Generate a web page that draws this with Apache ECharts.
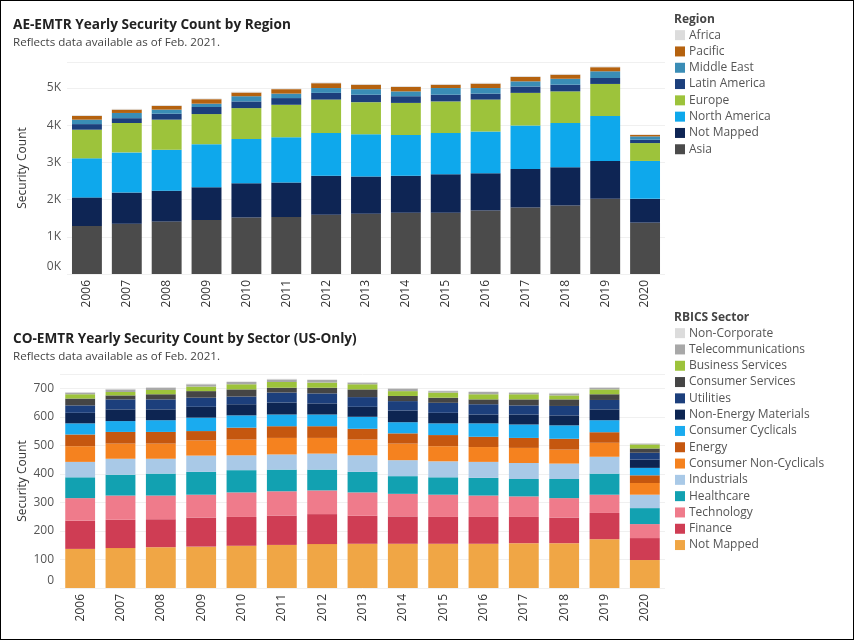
<!DOCTYPE html>
<html><head><meta charset="utf-8">
<script src="https://cdn.jsdelivr.net/npm/echarts@6/dist/echarts.min.js"></script>
<style>
html,body{margin:0;padding:0;background:#fff;}
#c{width:854px;height:640px;}
#frame{position:absolute;left:0;top:0;width:852px;height:638px;border:1px solid #000;pointer-events:none;}
</style></head>
<body>
<div id="c"></div><div id="frame"></div>
<script>
const years = ['2006','2007','2008','2009','2010','2011','2012','2013','2014','2015','2016','2017','2018','2019','2020'];

// Region chart (security counts)
const regionNames = ['Africa','Pacific','Middle East','Latin America','Europe','North America','Not Mapped','Asia'];
const asia         = [1290,1350,1410,1450,1520,1530,1590,1620,1650,1650,1710,1790,1840,2020,1380];
const notMappedR   = [770,840,830,880,920,930,1050,1000,990,1030,1000,1030,1030,1020,640];
const northAmerica = [1050,1080,1100,1160,1190,1220,1150,1140,1100,1110,1120,1170,1190,1210,1020];
const europe       = [770,790,810,810,830,870,900,860,860,850,860,880,850,860,480];
const latinAmerica = [150,130,160,190,180,180,180,200,180,180,160,170,180,160,90];
const middleEast   = [120,140,110,90,140,120,130,150,130,180,150,140,160,180,90];
const pacific      = [100,90,100,120,100,120,130,120,120,90,120,120,110,110,40];
const africa       = [20,20,20,20,20,20,20,20,20,20,20,20,20,20,10];

// Sector chart (US-only security counts)
const sectorNames = ['Non-Corporate','Telecommunications','Business Services','Consumer Services','Utilities','Non-Energy Materials','Consumer Cyclicals','Energy','Consumer Non-Cyclicals','Industrials','Healthcare','Technology','Finance','Not Mapped'];
const notMappedS   = [137,140,143,145,148,151,154,155,155,155,155,157,157,171,98];
const finance      = [99,99,98,102,101,103,105,98,96,94,94,92,90,92,77];
const technology   = [79,85,83,80,86,85,83,82,79,78,75,72,68,64,49];
const healthcare   = [73,73,77,80,78,76,73,72,62,61,62,61,67,74,56];
const industrials  = [54,56,52,57,52,53,56,58,56,56,56,56,54,59,47];
const consNonCyc   = [55,53,53,53,55,58,55,55,58,53,52,53,49,49,41];
const energy       = [41,41,41,33,42,41,41,38,36,39,36,35,38,37,27];
const consCyc      = [39,38,41,47,43,41,41,42,39,41,47,47,47,42,26];
const nonEnergyMat = [37,41,38,38,39,42,39,35,41,37,31,35,35,38,29];
const utilities    = [26,35,35,32,27,35,35,34,33,35,36,32,33,33,24];
const consServices = [24,14,18,23,25,17,20,27,18,18,17,21,23,20,15];
const bizServices  = [15,12,15,16,18,20,18,18,17,18,18,18,14,17,14];
const telecom      = [6,9,8,8,8,9,9,6,9,5,8,6,7,6,3];
const nonCorporate = [2,2,2,2,2,2,2,2,2,2,2,2,2,2,1];

const regionStack = [
  ['Asia', asia, '#4b4b4b'],
  ['Not Mapped', notMappedR, '#0e2554'],
  ['North America', northAmerica, '#0ea8ec'],
  ['Europe', europe, '#9dc33b'],
  ['Latin America', latinAmerica, '#1c3f7c'],
  ['Middle East', middleEast, '#3a8db6'],
  ['Pacific', pacific, '#b5620f'],
  ['Africa', africa, '#dcdcdc']
];
const sectorStack = [
  ['Not Mapped', notMappedS, '#f0a645'],
  ['Finance', finance, '#cf3d54'],
  ['Technology', technology, '#ef7b8b'],
  ['Healthcare', healthcare, '#12a1b1'],
  ['Industrials', industrials, '#a9c9e7'],
  ['Consumer Non-Cyclicals', consNonCyc, '#f5821f'],
  ['Energy', energy, '#c5570f'],
  ['Consumer Cyclicals', consCyc, '#1aabef'],
  ['Non-Energy Materials', nonEnergyMat, '#0d2552'],
  ['Utilities', utilities, '#1c3f7c'],
  ['Consumer Services', consServices, '#454545'],
  ['Business Services', bizServices, '#9dc33b'],
  ['Telecommunications', telecom, '#a8a8a8'],
  ['Non-Corporate', nonCorporate, '#dcdcdc']
];

const FONT = 'Open Sans';
const series = [];
regionStack.forEach(([n, d, c]) => series.push({
  name: n, type: 'bar', stack: 'region', xAxisIndex: 0, yAxisIndex: 0,
  barWidth: '75%', data: d, itemStyle: {color: c}, legendHoverLink: false
}));
sectorStack.forEach(([n, d, c]) => series.push({
  name: n + ' ', type: 'bar', stack: 'sector', xAxisIndex: 1, yAxisIndex: 1,
  barWidth: '74%', data: d, itemStyle: {color: c}
}));

const xCommon = {
  type: 'category', data: years,
  axisLine: {show: false}, axisTick: {show: false},
  axisLabel: {rotate: 90, fontFamily: FONT, fontSize: 12, color: '#333', margin: 6}
};
const yCommon = {
  type: 'value', min: 0,
  axisLine: {show: false}, axisTick: {show: false},
  splitLine: {lineStyle: {color: '#f0f0f0'}},
  nameLocation: 'middle', nameRotate: 90, nameMoveOverlap: false,
  nameTextStyle: {fontFamily: FONT, fontSize: 12, color: '#333'}
};

const option = {
  animation: false,
  textStyle: {fontFamily: FONT},
  title: [
    {text: 'AE-EMTR Yearly Security Count by Region', subtext: 'Reflects data available as of Feb. 2021.',
     left: 8, top: 13, itemGap: 5,
     textStyle: {fontFamily: FONT, fontSize: 13.6, fontWeight: 'bold', color: '#222'},
     subtextStyle: {fontFamily: FONT, fontSize: 11.6, color: '#444'}},
    {text: 'CO-EMTR Yearly Security Count by Sector (US-Only)', subtext: 'Reflects data available as of Feb. 2021.',
     left: 8, top: 327, itemGap: 5,
     textStyle: {fontFamily: FONT, fontSize: 13.6, fontWeight: 'bold', color: '#222'},
     subtextStyle: {fontFamily: FONT, fontSize: 11.6, color: '#444'}},
    {text: 'Region', left: 669, top: 9, textStyle: {fontFamily: FONT, fontSize: 12, fontWeight: 'bold', color: '#444'}},
    {text: 'RBICS Sector', left: 669, top: 307, textStyle: {fontFamily: FONT, fontSize: 12, fontWeight: 'bold', color: '#444'}}
  ],
  legend: [
    {orient: 'vertical', left: 670, top: 24, itemWidth: 10, itemHeight: 10, itemGap: 4,
     icon: 'rect', data: regionNames, selectedMode: false,
     textStyle: {fontFamily: FONT, fontSize: 12, color: '#555', lineHeight: 12.3, padding: [0,0,0,-1]}},
    {orient: 'vertical', left: 670, top: 322, itemWidth: 10, itemHeight: 10, itemGap: 4,
     icon: 'rect', data: sectorNames.map(s => s + ' '), selectedMode: false,
     textStyle: {fontFamily: FONT, fontSize: 12, color: '#555', lineHeight: 12.3, padding: [0,0,0,-1]}}
  ],
  grid: [
    {left: 67, right: 189, top: 62, bottom: 366},
    {left: 60, right: 189, top: 374, bottom: 52}
  ],
  xAxis: [
    Object.assign({gridIndex: 0}, xCommon),
    Object.assign({gridIndex: 1}, xCommon)
  ],
  yAxis: [
    Object.assign({}, yCommon, {gridIndex: 0, max: 5700, interval: 1000, name: 'Security Count', nameGap: 38,
      axisLabel: {showMaxLabel: false, fontFamily: FONT, fontSize: 12, color: '#555', margin: 6,
        formatter: v => v === 0 ? '{z|0K}' : (v / 1000) + 'K',
        rich: {z: {fontFamily: FONT, fontSize: 12, color: '#555', padding: [0, 0, 14, 0]}}}}),
    Object.assign({}, yCommon, {gridIndex: 1, max: 750, interval: 100, name: 'Security Count', nameGap: 31,
      axisLabel: {showMaxLabel: false, fontFamily: FONT, fontSize: 12, color: '#555', margin: 6,
        formatter: v => v === 0 ? '{z|0}' : String(v),
        rich: {z: {fontFamily: FONT, fontSize: 12, color: '#555', padding: [0, 0, 14, 0]}}}})
  ],
  series: series
};
const chart = echarts.init(document.getElementById('c'), null, {renderer: 'canvas'});
chart.setOption(option);
</script>
</body></html>
